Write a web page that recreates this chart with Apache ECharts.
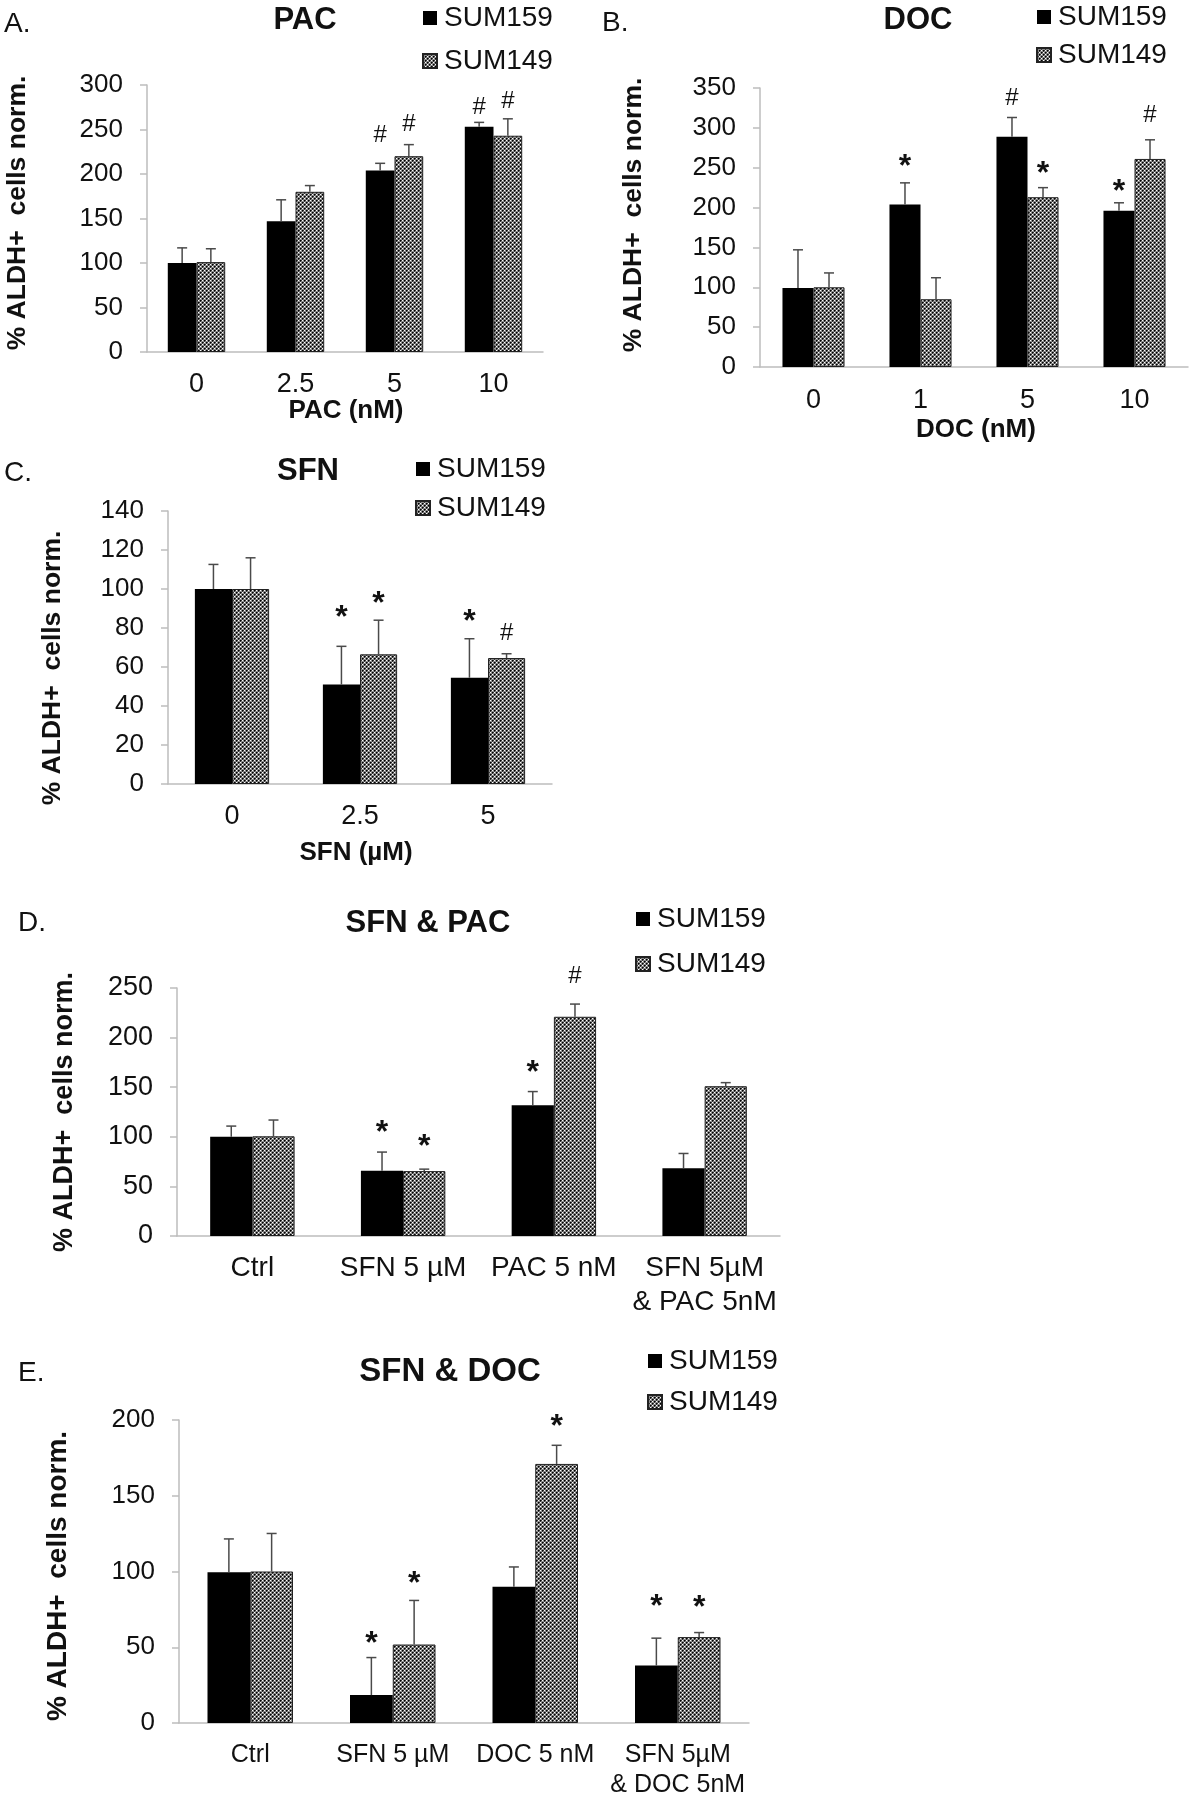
<!DOCTYPE html>
<html><head><meta charset="utf-8">
<script src="https://cdn.jsdelivr.net/npm/echarts@6.0.0/dist/echarts.min.js"></script>
<style>html,body{margin:0;padding:0;background:#fff}#c{width:1190px;height:1800px}</style>
</head><body><div id="c"></div>
<script>
// ---------- DATA ----------
const seriesNames = ['SUM159', 'SUM149'];

// Panel A: PAC
const catA = ['0', '2.5', '5', '10'];
const yTicksA = [0, 50, 100, 150, 200, 250, 300];
const a159 = [100, 147, 204, 253];
const a159Err = [117, 171, 212, 258];
const a149 = [101, 180, 220, 243];
const a149Err = [116, 187, 233, 262];
const a159Sig = ['', '', '#', '#'];
const a159SigY = [0, 0, 243, 275];
const a149Sig = ['', '', '#', '#'];
const a149SigY = [0, 0, 256, 282];

// Panel B: DOC
const catB = ['0', '1', '5', '10'];
const yTicksB = [0, 50, 100, 150, 200, 250, 300, 350];
const b159 = [99, 204, 289, 196];
const b159Err = [147, 231, 313, 206];
const b149 = [100, 85, 213, 261];
const b149Err = [118, 112, 225, 285];
const b159Sig = ['', '*', '#', '*'];
const b159SigY = [0, 260, 337, 228];
const b149Sig = ['', '', '*', '#'];
const b149SigY = [0, 0, 251, 316];

// Panel C: SFN
const catC = ['0', '2.5', '5'];
const yTicksC = [0, 20, 40, 60, 80, 100, 120, 140];
const c159 = [100, 51, 54.5];
const c159Err = [112.6, 70.6, 74.5];
const c149 = [100, 66.5, 64.6];
const c149Err = [116, 84, 66.8];
const c159Sig = ['', '*', '*'];
const c159SigY = [0, 88.4, 86.7];
const c149Sig = ['', '*', '#'];
const c149SigY = [0, 96, 77.3];

// Panel D: SFN & PAC
const catD = ['Ctrl', 'SFN 5 µM', 'PAC 5 nM', 'SFN 5µM\n& PAC 5nM'];
const yTicksD = [0, 50, 100, 150, 200, 250];
const d159 = [100, 65.7, 131.7, 68.4];
const d159Err = [110.8, 84.6, 145.6, 83.2];
const d149 = [100.5, 65.4, 221, 151];
const d149Err = [116.9, 67.4, 233.8, 154.6];
const d159Sig = ['', '*', '*', ''];
const d159SigY = [0, 110.8, 170.8, 0];
const d149Sig = ['', '*', '#', ''];
const d149SigY = [0, 96.7, 261.8, 0];

// Panel E: SFN & DOC
const catE = ['Ctrl', 'SFN 5 µM', 'DOC 5 nM', 'SFN 5µM\n& DOC 5nM'];
const yTicksE = [0, 50, 100, 150, 200];
const e159 = [99.5, 18.4, 90, 37.9];
const e159Err = [121.5, 43.2, 103, 56];
const e149 = [100, 51.8, 171, 56.7];
const e149Err = [125.1, 80.9, 183.3, 59.7];
const e159Sig = ['', '*', '', '*'];
const e159SigY = [0, 56.7, 0, 81.3];
const e149Sig = ['', '*', '*', '*'];
const e149SigY = [0, 96.3, 200, 80.2];

// ---------- STYLE ----------
const FONT = "'Liberation Sans', Arial, Helvetica, sans-serif";

function makePattern() {
  const cv = document.createElement('canvas');
  cv.width = 4; cv.height = 4;
  const g = cv.getContext('2d');
  g.fillStyle = '#8c8c8c'; g.fillRect(0, 0, 4, 4);
  g.fillStyle = '#000'; g.fillRect(0, 0, 1, 1); g.fillRect(2, 2, 1, 1);
  g.fillStyle = '#3a3a3a';
  g.fillRect(1, 0, 1, 1); g.fillRect(0, 1, 1, 1); g.fillRect(3, 2, 1, 1); g.fillRect(2, 3, 1, 1);
  g.fillStyle = '#fff'; g.fillRect(2, 0, 1, 1); g.fillRect(0, 2, 1, 1);
  return cv;
}
const pattern = { image: makePattern(), repeat: 'repeat' };

const panels = [
  { letter: 'A.', lx: 4, ly: 24, title: 'PAC', tx: 305, ty: 20, titleFs: 31, xName: 'PAC (nM)', xnx: 346, xny: 411,
    yNameX: 18, yNameY: 213, yNameFs: 26.5, bw: 0.29,
    grid: { left: 147, top: 85, width: 396, height: 267 }, cats: catA, ticks: yTicksA,
    s1: a159, e1: a159Err, s2: a149, e2: a149Err, g1: a159Sig, gy1: a159SigY, g2: a149Sig, gy2: a149SigY,
    legend: { left: 422, top: 4, itemGap: 15, fs: 28 }, tickFs: 26, labFs: 27, labLh: 28, labMargin: 19 },
  { letter: 'B.', lx: 602, ly: 23, title: 'DOC', tx: 918, ty: 20, titleFs: 31, xName: 'DOC (nM)', xnx: 976, xny: 430,
    yNameX: 634, yNameY: 215, yNameFs: 26.5, bw: 0.29,
    grid: { left: 760, top: 88, width: 428, height: 279 }, cats: catB, ticks: yTicksB,
    s1: b159, e1: b159Err, s2: b149, e2: b149Err, g1: b159Sig, gy1: b159SigY, g2: b149Sig, gy2: b149SigY,
    legend: { left: 1036, top: 3, itemGap: 10, fs: 28 }, tickFs: 26, labFs: 27, labLh: 28, labMargin: 20 },
  { letter: 'C.', lx: 4, ly: 473, title: 'SFN', tx: 308, ty: 471, titleFs: 31, xName: 'SFN (µM)', xnx: 356, xny: 853,
    yNameX: 53, yNameY: 668, yNameFs: 26.5, bw: 0.29,
    grid: { left: 168, top: 511, width: 384, height: 273 }, cats: catC, ticks: yTicksC,
    s1: c159, e1: c159Err, s2: c149, e2: c149Err, g1: c159Sig, gy1: c159SigY, g2: c149Sig, gy2: c149SigY,
    legend: { left: 415, top: 455, itemGap: 11, fs: 28 }, tickFs: 26, labFs: 27, labLh: 28, labMargin: 19 },
  { letter: 'D.', lx: 18, ly: 923, title: 'SFN & PAC', tx: 428, ty: 923, titleFs: 31, xName: '',
    yNameX: 65, yNameY: 1112, yNameFs: 27, bw: 0.28,
    grid: { left: 177, top: 988, width: 603, height: 248 }, cats: catD, ticks: yTicksD,
    s1: d159, e1: d159Err, s2: d149, e2: d149Err, g1: d159Sig, gy1: d159SigY, g2: d149Sig, gy2: d149SigY,
    legend: { left: 635, top: 905, itemGap: 17, fs: 28 }, tickFs: 27, labFs: 28, labLh: 34, labMargin: 15 },
  { letter: 'E.', lx: 18, ly: 1373, title: 'SFN & DOC', tx: 450, ty: 1372, titleFs: 33, xName: '',
    yNameX: 58, yNameY: 1576, yNameFs: 28, bw: 0.30,
    grid: { left: 179, top: 1420, width: 570, height: 312 }, cats: catE, ticks: yTicksE,
    s1: e159, e1: e159Err, s2: e149, e2: e149Err, g1: e159Sig, gy1: e159SigY, g2: e149Sig, gy2: e149SigY,
    legend: { left: 647, top: 1347, itemGap: 13, fs: 28 }, tickFs: 26, labFs: 25, labLh: 30, labMargin: 17 }
];

function errRender(sign, bw) {
  return function (params, api) {
    const ci = api.value(0), v = api.value(1), e = api.value(2);
    const p0 = api.coord([ci, v]);
    const p1 = api.coord([ci, e]);
    const band = api.size([1, 0])[0];
    const x = p0[0] + sign * band * bw / 2;
    const st = { stroke: '#4a4a4a', lineWidth: 1.5 };
    return { type: 'group', children: [
      { type: 'line', shape: { x1: x, y1: p0[1], x2: x, y2: p1[1] }, style: st },
      { type: 'line', shape: { x1: x - 5, y1: p1[1], x2: x + 5, y2: p1[1] }, style: st }
    ] };
  };
}
function sigRender(sign, bw, labels) {
  return function (params, api) {
    const ci = api.value(0), sy = api.value(1);
    const txt = labels[params.dataIndex] || '';
    const p = api.coord([ci, sy]);
    const band = api.size([1, 0])[0];
    const x = p[0] + sign * band * bw / 2;
    const isStar = txt === '*';
    return { type: 'text', x: x, y: p[1] + (isStar ? 7 : 0),
      style: { text: txt, fill: '#111', fontSize: isStar ? 32 : 24, fontWeight: isStar ? 'bold' : 'normal',
        fontFamily: FONT, align: 'center', verticalAlign: 'middle' } };
  };
}

const grid = [], xAxis = [], yAxis = [], series = [], legend = [], graphic = [];
panels.forEach((p, i) => {
  grid.push(Object.assign({ containLabel: false }, p.grid));
  xAxis.push({ type: 'category', gridIndex: i, data: p.cats,
    axisLine: { lineStyle: { color: '#bdbdbd', width: 1.5 } }, axisTick: { show: false },
    axisLabel: { color: '#111', fontSize: p.labFs, fontFamily: FONT, margin: p.labMargin, lineHeight: p.labLh, interval: 0 } });
  const t = p.ticks;
  yAxis.push({ type: 'value', gridIndex: i, min: t[0], max: t[t.length - 1], interval: t[1] - t[0],
    splitLine: { show: false },
    axisLine: { show: true, lineStyle: { color: '#bdbdbd', width: 1.5 } },
    axisTick: { show: true, length: 7, lineStyle: { color: '#bdbdbd', width: 1.5 } },
    axisLabel: { color: '#111', fontSize: p.tickFs, fontFamily: FONT, margin: 24 } });
  const bwp = (p.bw * 100) + '%';
  series.push({ type: 'bar', name: seriesNames[0], xAxisIndex: i, yAxisIndex: i, data: p.s1,
    barWidth: bwp, barGap: '0%', itemStyle: { color: '#000' }, silent: true });
  series.push({ type: 'bar', name: seriesNames[1], xAxisIndex: i, yAxisIndex: i, data: p.s2,
    barWidth: bwp, barGap: '0%', itemStyle: { color: pattern, borderColor: '#222', borderWidth: 1 }, silent: true });
  series.push({ type: 'custom', xAxisIndex: i, yAxisIndex: i, renderItem: errRender(-1, p.bw), z: 5, silent: true,
    data: p.s1.map((v, k) => [k, v, p.e1[k]]) });
  series.push({ type: 'custom', xAxisIndex: i, yAxisIndex: i, renderItem: errRender(1, p.bw), z: 5, silent: true,
    data: p.s2.map((v, k) => [k, v, p.e2[k]]) });
  const sig1 = [], lab1 = [], sig2 = [], lab2 = [];
  p.g1.forEach((g, k) => { if (g) { sig1.push([k, p.gy1[k]]); lab1.push(g); } });
  p.g2.forEach((g, k) => { if (g) { sig2.push([k, p.gy2[k]]); lab2.push(g); } });
  series.push({ type: 'custom', xAxisIndex: i, yAxisIndex: i, renderItem: sigRender(-1, p.bw, lab1), z: 6, silent: true, data: sig1 });
  series.push({ type: 'custom', xAxisIndex: i, yAxisIndex: i, renderItem: sigRender(1, p.bw, lab2), z: 6, silent: true, data: sig2 });
  legend.push({ orient: 'vertical', left: p.legend.left, top: p.legend.top, itemGap: p.legend.itemGap, padding: 0,
    itemWidth: 14, itemHeight: 14, icon: 'rect', selectedMode: false, data: seriesNames,
    textStyle: { fontSize: p.legend.fs, fontFamily: FONT, color: '#111', lineHeight: 28, padding: [0, 0, 0, 2] } });
  graphic.push({ type: 'text', x: p.lx, y: p.ly, style: { text: p.letter, fontSize: 28, fontFamily: FONT, fill: '#111', align: 'left', verticalAlign: 'middle' } });
  graphic.push({ type: 'text', x: p.tx, y: p.ty, style: { text: p.title, fontSize: p.titleFs, fontWeight: 'bold', fontFamily: FONT, fill: '#111', align: 'center', verticalAlign: 'middle' } });
  if (p.xName) graphic.push({ type: 'text', x: p.xnx, y: p.xny, style: { text: p.xName, fontSize: 26, fontWeight: 'bold', fontFamily: FONT, fill: '#111', align: 'center', verticalAlign: 'middle' } });
  graphic.push({ type: 'text', x: p.yNameX, y: p.yNameY, rotation: Math.PI / 2,
    style: { text: '% ALDH+  cells norm.', fontSize: p.yNameFs, fontWeight: 'bold', fontFamily: FONT, fill: '#111', align: 'center', verticalAlign: 'middle' } });
});

const chart = echarts.init(document.getElementById('c'), null, { renderer: 'canvas' });
chart.setOption({ backgroundColor: '#fff', animation: false, grid, xAxis, yAxis, series, legend, graphic });
</script></body></html>
